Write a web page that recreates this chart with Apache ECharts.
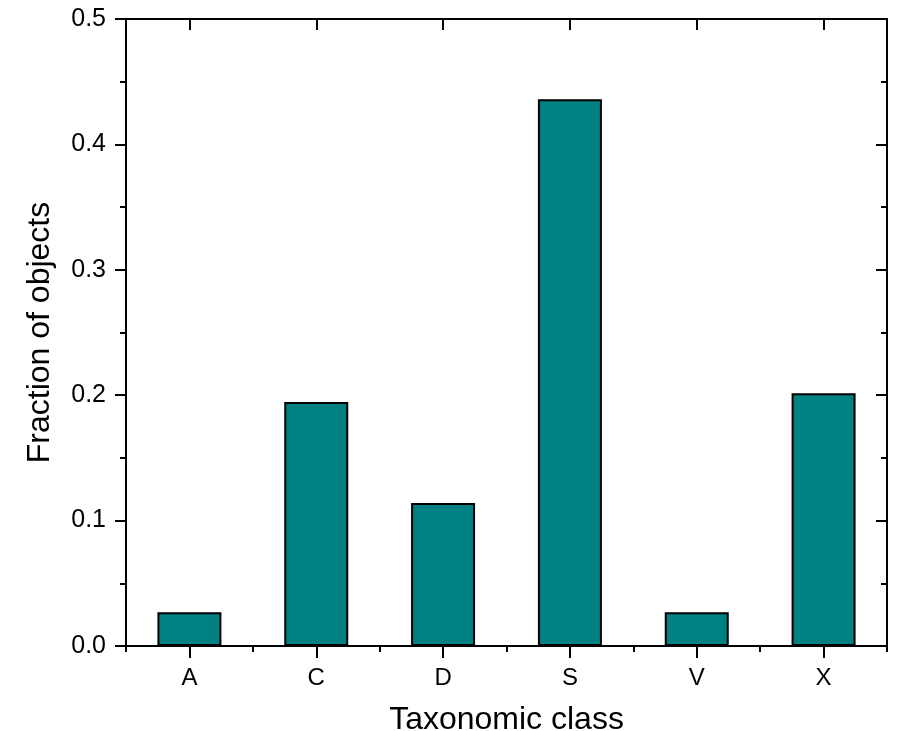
<!DOCTYPE html>
<html>
<head>
<meta charset="utf-8">
<script src="https://cdn.jsdelivr.net/npm/echarts@6/dist/echarts.min.js"></script>
<style>html,body{margin:0;padding:0;background:#fff}#c{width:900px;height:731px}</style>
</head>
<body>
<div id="c"></div>
<script>
const categories = ['A', 'C', 'D', 'S', 'V', 'X'];
const fractions = [0.027, 0.1946, 0.114, 0.436, 0.027, 0.2015];
const yTicks = { min: 0, max: 0.5, interval: 0.1 };

const FONT = '"Liberation Sans", Arial, sans-serif';
const chart = echarts.init(document.getElementById('c'), null, { renderer: 'canvas' });
const lineStyle = { color: '#000', width: 2 };
chart.setOption({
  animation: false,
  backgroundColor: '#fff',
  grid: { left: 126, right: 13, top: 19, bottom: 85, containLabel: false, outerBoundsMode: 'none' },
  xAxis: [
    {
      type: 'category', data: categories, position: 'bottom',
      name: 'Taxonomic class', nameLocation: 'middle', nameGap: 58,
      nameTextStyle: { fontFamily: FONT, fontSize: 32, color: '#000' },
      axisLine: { show: true, onZero: false, lineStyle },
      axisTick: { show: true, alignWithLabel: true, interval: 0, length: 12, lineStyle },
      axisLabel: { fontFamily: FONT, fontSize: 24, color: '#000', margin: 20, interval: 0 },
      splitLine: { show: false }
    },
    {
      type: 'category', data: categories, position: 'top',
      axisLine: { show: true, onZero: false, lineStyle },
      axisTick: { show: true, inside: true, alignWithLabel: true, interval: 0, length: 11, lineStyle },
      axisLabel: { show: true, interval: 0, color: 'rgba(0,0,0,0)', fontSize: 1 },
      splitLine: { show: false }
    },
    {
      type: 'value', min: 0, max: categories.length, interval: 1, position: 'bottom',
      axisLine: { show: false, onZero: false },
      axisTick: { show: true, length: 6, lineStyle },
      axisLabel: { show: false },
      splitLine: { show: false }
    }
  ],
  yAxis: [
    {
      type: 'value', min: yTicks.min, max: yTicks.max, interval: yTicks.interval, position: 'left',
      name: 'Fraction of objects', nameLocation: 'middle', nameGap: 70,
      nameTextStyle: { fontFamily: FONT, fontSize: 32, color: '#000' },
      axisLine: { show: true, onZero: false, lineStyle },
      axisTick: { show: true, length: 11, lineStyle },
      minorTick: { show: true, splitNumber: 2, length: 6, lineStyle },
      axisLabel: { fontFamily: FONT, fontSize: 25, color: '#000', margin: 20, formatter: v => v.toFixed(1) },
      splitLine: { show: false }
    },
    {
      type: 'value', min: yTicks.min, max: yTicks.max, interval: yTicks.interval, position: 'right',
      axisLine: { show: true, onZero: false, lineStyle },
      axisTick: { show: true, inside: true, length: 11, lineStyle },
      minorTick: { show: true, splitNumber: 2, length: 6, lineStyle },
      axisLabel: { show: false },
      splitLine: { show: false }
    }
  ],
  series: [
    {
      type: 'bar', xAxisIndex: 0, yAxisIndex: 0,
      data: fractions, barWidth: 64,
      itemStyle: { color: '#008080', borderColor: '#000', borderWidth: 2 }
    },
    {
      type: 'line', xAxisIndex: 1, yAxisIndex: 1, data: fractions,
      showSymbol: false, silent: true, lineStyle: { opacity: 0 }, z: 0
    }
  ]
});
</script>
</body>
</html>
